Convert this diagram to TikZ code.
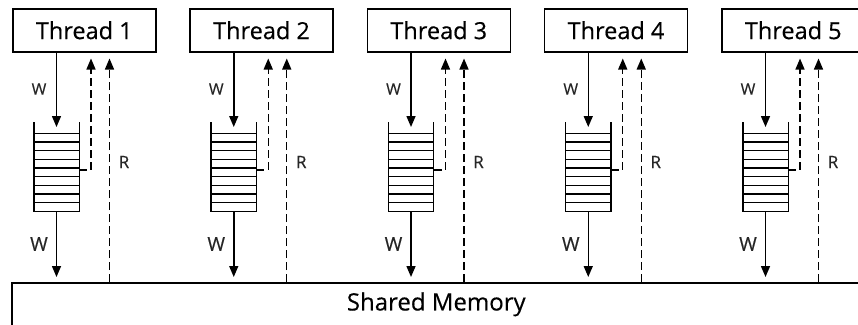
\documentclass[tikz,border=0pt]{standalone}
\usepackage{fontspec}
\setmainfont{Open Sans}
\newfontfamily\heavyfont[FakeBold=0.4]{Open Sans}
\usetikzlibrary{arrows.meta,calc}
\tikzset{
  threadbox/.style={draw, line width=1.5pt, minimum width=143pt, minimum height=43pt, inner sep=0pt, anchor=north west, font=\heavyfont\fontsize{23.5}{26}\selectfont},
  membox/.style={draw, line width=1.5pt, inner sep=0pt, font=\heavyfont\fontsize{24}{27}\selectfont},
  queuebox/.style={minimum width=45pt, minimum height=89pt, inner sep=0pt, anchor=north},
  qline/.style={line width=1.4pt},
  warrow/.style={line width=1.5pt, -{Triangle[length=11pt,width=9pt]}},
  rarrow/.style={line width=1.4pt, dash pattern=on 8pt off 4pt, -{Triangle[length=11pt,width=9pt]}},
  wlabel/.style={font=\heavyfont\fontsize{16}{18}\selectfont, text=black!85},
  wlabelb/.style={font=\heavyfont\fontsize{19}{21}\selectfont, text=black!85},
  rlabel/.style={font=\heavyfont\fontsize{17}{19}\selectfont, text=black!85}
}
\begin{document}
\begin{tikzpicture}[x=1pt,y=-1pt]
\useasboundingbox (0,0) rectangle (858,324);
\node[membox, minimum width=849pt, minimum height=43pt, anchor=north west] (mem) at (11,282) {Shared Memory};
\foreach \i/\n in {0/1,1/2,2/3,3/4,4/5}{
  \pgfmathsetmacro{\X}{57+177.25*\i}
  \node[threadbox] (t\i) at (\X-45,8) {Thread \n};
  \node[queuebox] (q\i) at (\X-0.5,122) {};
  % queue outline (open top)
  \draw[qline] (q\i.north west) -- (q\i.south west) -- (q\i.south east) -- (q\i.north east);
  \foreach \k in {0,...,8}{
    \draw[qline] ($(q\i.west)+(0,133+\k*8.667-166.5)$) -- ($(q\i.east)+(0,133+\k*8.667-166.5)$);
  }
  % write arrows
  \draw[warrow, shorten >=-5pt] (t\i.south -| q\i.north) -- (q\i.north);
  \draw[warrow, shorten >=5pt] (q\i.south) -- (q\i.south |- mem.north);
  % read arrows
  \coordinate (a\i) at (\X+34,170);
  \coordinate (b\i) at (\X+52.5,282);
  \draw[rarrow, shorten >=6pt] (q\i.east |- a\i) -- (a\i) -- (a\i |- t\i.south);
  \draw[rarrow, shorten >=6pt] (mem.north -| b\i) -- (b\i |- t\i.south);
  % labels
  \node[wlabel] (wt\i) at (\X-18,89) {W};
  \node[wlabelb] (wb\i) at (\X-18,244) {W};
  \node[rlabel] (r\i) at (\X+67,162) {R};
}
\end{tikzpicture}
\end{document}
